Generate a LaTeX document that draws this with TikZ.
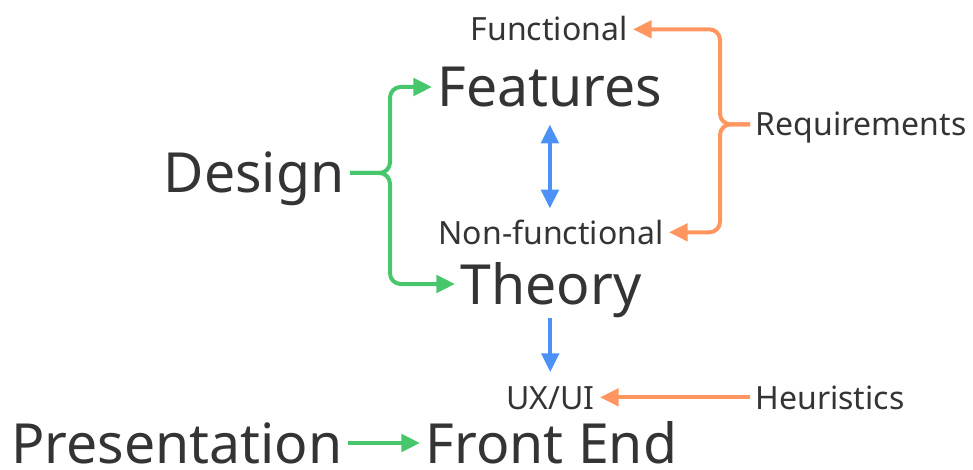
\documentclass[tikz,border=0pt]{standalone}
\usepackage{fontspec}
\setmainfont{Noto Sans}
\usepackage{tikz}
\usetikzlibrary{arrows.meta}
\definecolor{ink}{RGB}{52,52,52}
\definecolor{grn}{RGB}{72,198,108}
\definecolor{org}{RGB}{255,150,95}
\definecolor{blu}{RGB}{76,146,246}

\begin{document}
\begin{tikzpicture}[x=0.75pt,y=-0.75pt,
  big/.style={text=ink,font=\fontsize{41.5}{43}\selectfont,inner xsep=4pt,inner ysep=0pt,text height=30pt,text depth=0pt},
  small/.style={text=ink,font=\fontsize{24}{26}\selectfont,inner xsep=4pt,inner ysep=0pt,text height=17.5pt,text depth=0pt},
  link/.style={line width=3pt,rounded corners=8pt,-{Triangle[length=14pt,width=13pt]}}]
  \useasboundingbox (0,0) rectangle (973,470);
  % words
  \node[big,anchor=base east] (design) at (350,193) {Design};
  \node[big,anchor=base west] (features) at (432,107) {Features};
  \node[big,anchor=base west] (theory) at (455,304) {Theory};
  \node[small,anchor=base east] (functional) at (633,41) {Functional};
  \node[small,anchor=base east] (nonfunc) at (669,244) {Non-functional};
  \node[small,anchor=base west] (req) at (750,136) {Requirements};
  \node[small,anchor=base east] (uxui) at (600,409) {UX/UI};
  \node[small,anchor=base west] (heur) at (750,409) {Heuristics};
  \node[big,anchor=base east] (pres) at (348,463) {Presentation};
  \node[big,anchor=base west] (front) at (420,463) {Front End};
  % green
  \draw[link,grn] (design.east) -- ++(40,0) |- (features.west);
  \draw[link,grn] (design.east) -- ++(40,0) |- (theory.west);
  \draw[link,grn] (pres.east) -- (front.west);
  % orange
  \draw[link,org] (req.west) -- ++(-30,0) |- (functional.east);
  \draw[link,org] (req.west) -- ++(-30,0) |- (nonfunc.east);
  \draw[link,org] (heur.west) -- (uxui.east);
  % blue
  \draw[link,blu,{Triangle[length=14pt,width=13pt]}-{Triangle[length=14pt,width=13pt]},shorten <=13pt,shorten >=9pt]
    (features.south) -- (features.south |- nonfunc.north);
  \draw[link,blu,shorten <=10pt,shorten >=10pt] (theory.south -| uxui.north) -- (uxui.north);
\end{tikzpicture}
\end{document}
